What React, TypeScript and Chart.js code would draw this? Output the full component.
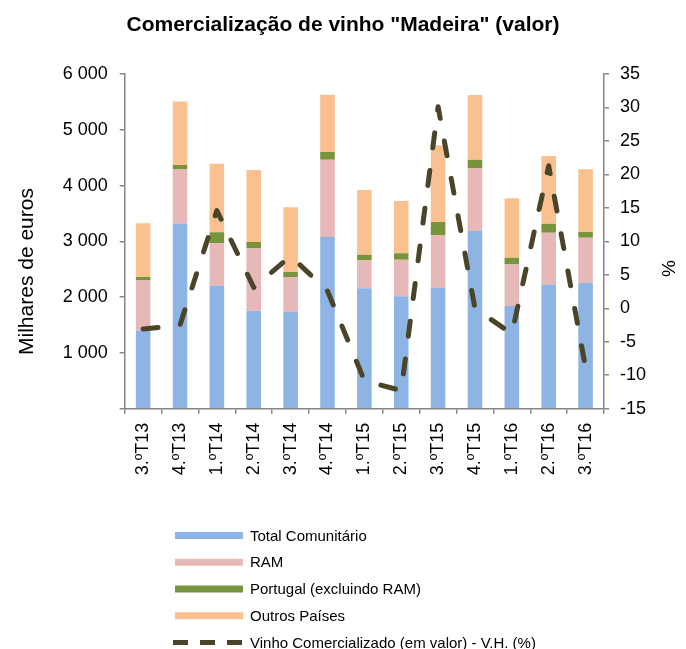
import React, { useEffect, useRef } from 'react';
import { Chart, registerables } from 'chart.js';

Chart.register(...registerables);

const categories = ['3.ºT13', '4.ºT13', '1.ºT14', '2.ºT14', '3.ºT14', '4.ºT14', '1.ºT15', '2.ºT15', '3.ºT15', '4.ºT15', '1.ºT16', '2.ºT16', '3.ºT16'];
const totalComunitario = [1400, 3315, 2205, 1755, 1740, 3080, 2160, 2015, 2170, 3185, 1840, 2225, 2260];
const ram = [907, 975, 765, 1115, 620, 1385, 505, 655, 945, 1130, 755, 930, 805];
const portugal = [55, 77, 195, 120, 90, 137, 95, 115, 233, 150, 113, 162, 102];
const outrosPaises = [963, 1140, 1225, 1290, 1160, 1028, 1160, 937, 1375, 1160, 1065, 1213, 1125];
const variacaoHomologa = [-3.1, -2.5, 14.6, 3.1, 7.8, 2.6, -10.8, -12.3, 30.1, 0.0, -3.8, 21.3, -8.9];

const leftTicks = { min: 0, max: 6000, step: 1000 };
const rightTicks = { min: -15, max: 35, step: 5 };

const TITLE = 'Comercialização de vinho "Madeira" (valor)';
const Y_TITLE = 'Milhares de euros';
const Y1_TITLE = '%';
const seriesNames = ['Total Comunitário', 'RAM', 'Portugal (excluindo RAM)', 'Outros Países', 'Vinho Comercializado (em valor) - V.H. (%)'];

const COLORS = ['#8DB4E2', '#E6B9B8', '#77933C', '#FAC090'];
const LINE_COLOR = '#4A452A';
const AXIS = '#868686';
const FONT = '"Liberation Sans", Arial, sans-serif';

const fmt = (v: number) => (v === 0 ? '' : String(v).replace(/\B(?=(\d{3})+(?!\d))/g, ' '));

const textPlugin = {
  id: 'customText',
  afterDraw(chart: any) {
    const ctx = chart.ctx as CanvasRenderingContext2D;
    ctx.save();
    ctx.fillStyle = '#000';
    ctx.textBaseline = 'alphabetic';
    ctx.textAlign = 'center';
    ctx.font = `bold 21px ${FONT}`;
    ctx.fillText(TITLE, 343, 31);

    ctx.save();
    ctx.translate(33, 271.5);
    ctx.rotate(-Math.PI / 2);
    ctx.font = `21px ${FONT}`;
    ctx.fillText(Y_TITLE, 0, 0);
    ctx.restore();

    ctx.save();
    ctx.translate(670, 268.5);
    ctx.rotate(-Math.PI / 2);
    ctx.font = `19px ${FONT}`;
    ctx.textBaseline = 'middle';
    ctx.fillText(Y1_TITLE, 0, 0);
    ctx.restore();

    // legend
    const y0 = 535.5;
    const step = 26.75;
    ctx.font = `15px ${FONT}`;
    ctx.textAlign = 'left';
    ctx.textBaseline = 'middle';
    for (let i = 0; i < 5; i++) {
      const yc = y0 + i * step;
      if (i < 4) {
        ctx.fillStyle = COLORS[i];
        ctx.fillRect(175, yc - 3.5, 68, 7);
      } else {
        ctx.save();
        ctx.strokeStyle = LINE_COLOR;
        ctx.lineWidth = 5;
        ctx.setLineDash([15, 12]);
        ctx.lineCap = 'butt';
        ctx.beginPath();
        ctx.moveTo(173, yc);
        ctx.lineTo(242, yc);
        ctx.stroke();
        ctx.restore();
      }
      ctx.fillStyle = '#000';
      ctx.fillText(seriesNames[i], 250, yc + 1);
    }
    ctx.restore();
  },
};

export default function App() {
  const ref = useRef<HTMLCanvasElement | null>(null);

  useEffect(() => {
    if (!ref.current) return;
    const barSeries = [totalComunitario, ram, portugal, outrosPaises];
    const datasets: any[] = barSeries.map((data, i) => ({
      type: 'bar',
      label: seriesNames[i],
      data,
      backgroundColor: COLORS[i],
      borderWidth: 0,
      yAxisID: 'y',
      stack: 'bars',
      order: 1,
      barPercentage: 0.395,
      categoryPercentage: 1,
    }));
    datasets.push({
      type: 'line',
      label: seriesNames[4],
      data: variacaoHomologa,
      borderColor: LINE_COLOR,
      backgroundColor: LINE_COLOR,
      borderWidth: 5,
      borderDash: [15, 23],
      borderCapStyle: 'round',
      borderJoinStyle: 'round',
      pointRadius: 0,
      tension: 0,
      fill: false,
      yAxisID: 'y1',
      stack: 'line',
      order: 0,
    });

    const tickFont = { family: FONT, size: 18 };
    const chart = new Chart(ref.current, {
      type: 'bar',
      data: { labels: categories, datasets },
      options: {
        responsive: true,
        maintainAspectRatio: false,
        animation: false,
        layout: { padding: { top: 74, left: 0, right: 0, bottom: 140.3 } },
        plugins: {
          legend: { display: false },
          title: { display: false },
          tooltip: { enabled: false },
        },
        scales: {
          x: {
            stacked: true,
            grid: { offset: true, drawOnChartArea: false, drawTicks: true, tickLength: 5, color: AXIS, lineWidth: 1.5 },
            border: { display: true, color: AXIS, width: 1.5 },
            ticks: { minRotation: 90, maxRotation: 90, autoSkip: false, font: tickFont, color: '#000', padding: 9 },
            afterFit: (s: any) => { s.height = 100; },
          },
          y: {
            stacked: true,
            position: 'left',
            min: leftTicks.min,
            max: leftTicks.max,
            ticks: { stepSize: leftTicks.step, font: tickFont, color: '#000', padding: 12, callback: (v: any) => fmt(Number(v)) },
            grid: { drawOnChartArea: false, drawTicks: true, tickLength: 5, color: AXIS, lineWidth: 1.5 },
            border: { display: true, color: AXIS, width: 1.5 },
            afterFit: (s: any) => { s.width = 124.7; },
          },
          y1: {
            stacked: false,
            position: 'right',
            min: rightTicks.min,
            max: rightTicks.max,
            ticks: { stepSize: rightTicks.step, font: tickFont, color: '#000', padding: 11 },
            grid: { drawOnChartArea: false, drawTicks: true, tickLength: 5, color: AXIS, lineWidth: 1.5 },
            border: { display: true, color: AXIS, width: 1.5 },
            afterFit: (s: any) => { s.width = 82; },
          },
        },
      } as any,
      plugins: [textPlugin],
    });
    return () => chart.destroy();
  }, []);

  return (
    <div style={{ position: 'absolute', left: 0, top: 0, width: 686, height: 649, background: '#fff' }}>
      <canvas ref={ref} />
    </div>
  );
}
